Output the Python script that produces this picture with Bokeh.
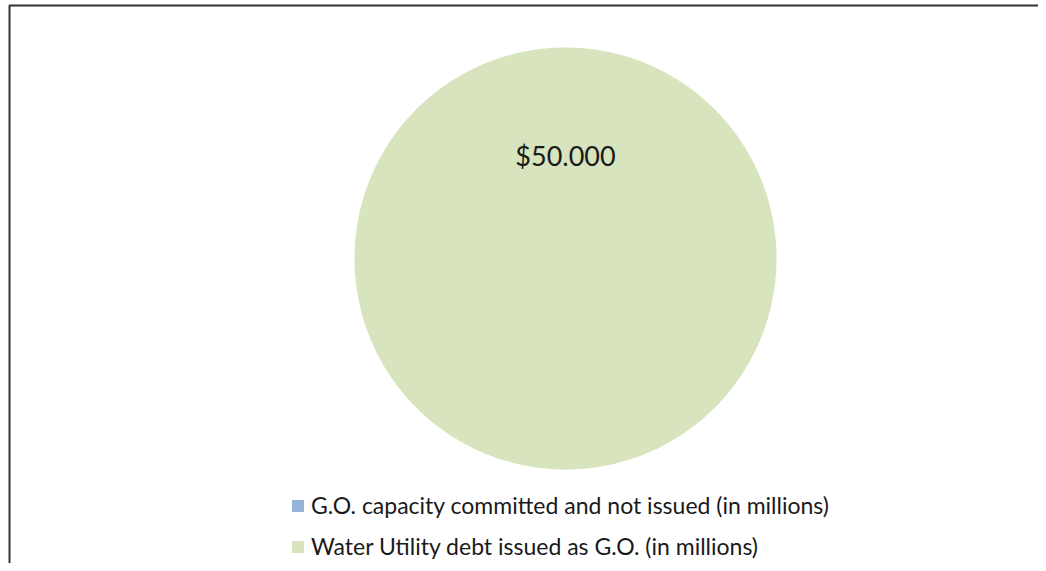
import numpy as np
from bokeh.plotting import figure
from bokeh.models import ColumnDataSource, Legend, LegendItem, BoxAnnotation
from bokeh.core.properties import value
from bokeh.embed import file_html
from bokeh.resources import INLINE

categories = ["G.O. capacity committed and not issued (in millions)",
              "Water Utility debt issued as G.O. (in millions)"]
values = [0.0, 50.0]
labels = ["", "$50.000"]
colors = ["#95B3D7", "#D7E4BD"]

W, H = 1038, 563
cx, cy, r = 565, 305, 211

vals = np.array(values)
frac = vals / vals.sum()
ends = np.cumsum(frac) * 2 * np.pi
starts = ends - frac * 2 * np.pi

xs, ys = [], []
for s, e in zip(starts, ends):
    n = max(2, int(np.ceil((e - s) / (2 * np.pi) * 720)) + 1)
    t = np.linspace(s, e, n)
    ang = np.pi / 2 - t  # clockwise from 12 o'clock
    xs.append(np.concatenate([[cx], cx + r * np.cos(ang)]))
    ys.append(np.concatenate([[cy], cy + r * np.sin(ang)]))

src = ColumnDataSource(dict(xs=xs, ys=ys, color=colors, cat=categories, val=values))

p = figure(width=W, height=H, x_range=(0, W), y_range=(0, H),
           output_backend="svg", toolbar_location=None, min_border=0)
p.axis.visible = False
p.grid.visible = False
p.outline_line_color = None
p.background_fill_color = "white"

pie = p.patches(xs="xs", ys="ys", fill_color="color", line_color=None, source=src)

# data label for the non-zero slice
lab_src = ColumnDataSource(dict(
    x=[cx for v in values if v > 0],
    y=[cy + r * 0.49 for v in values if v > 0],
    t=[l for l, v in zip(labels, values) if v > 0],
))
p.text(x="x", y="y", text="t", source=lab_src, text_align="center",
       text_baseline="middle", text_font=value("Lato"),
       text_font_size="27px", text_color="#1a1a1a")

items = [LegendItem(label=c, renderers=[pie], index=i) for i, c in enumerate(categories)]
legend = Legend(items=items, location=(290, 3), orientation="vertical",
                glyph_width=15, glyph_height=15, label_standoff=6,
                label_text_font="Lato", label_text_font_size="23px",
                label_text_color="#1a1a1a", label_height=28, spacing=13,
                padding=0, margin=0, border_line_color=None,
                background_fill_alpha=0)
p.add_layout(legend, "center")

# chart frame (left and top edges visible; right/bottom lie outside the view)
p.add_layout(BoxAnnotation(left=9, top=H - 5, right=W + 30, bottom=-30,
                           fill_alpha=0, line_color="#333333", line_alpha=1.0,
                           line_width=2))

open("out.html", "w").write(file_html(p, INLINE))
